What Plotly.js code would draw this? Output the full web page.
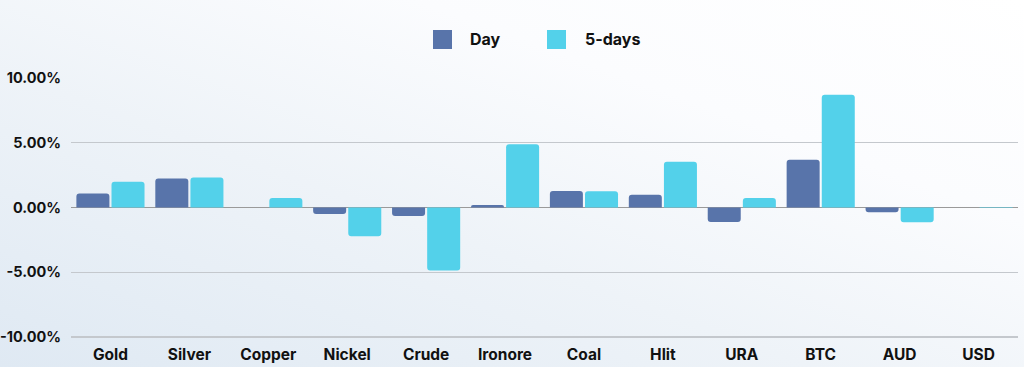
<!DOCTYPE html>
<html>
<head>
<meta charset="utf-8">
<script src="https://cdn.plot.ly/plotly-3.0.1.min.js"></script>
<style>
html,body{margin:0;padding:0;width:1024px;height:367px;overflow:hidden;}
body{background:linear-gradient(20deg,#dfe9f3 0%,#eef3f8 40%,#fbfcfe 70%,#ffffff 100%);}
#chart{width:1024px;height:367px;}
</style>
</head>
<body>
<div id="chart"></div>
<script>
const categories = ["Gold","Silver","Copper","Nickel","Crude","Ironore","Coal","Hlit","URA","BTC","AUD","USD"];
const dayValues = [1.08, 2.23, 0.0, -0.51, -0.66, 0.18, 1.26, 0.98, -1.13, 3.67, -0.38, 0.0];
const fiveDayValues = [1.98, 2.31, 0.72, -2.23, -4.87, 4.87, 1.25, 3.52, 0.72, 8.70, -1.15, -0.04];
const yTickValues = [-10, -5, 0, 5, 10];
const yTickLabels = ["-10.00%", "-5.00%", "0.00%", "5.00%", "10.00%"];
const seriesNames = ["Day", "5-days"];

const dayColor = "#5874AA";
const fiveColor = "#53D1EA";
const fontFamily = "Inter, 'Open Sans', sans-serif";

const W = 1024, H = 367;
const M = {l:71, r:6, t:77, b:26};
const pw = W - M.l - M.r, ph = H - M.t - M.b;
// convert pixel positions to paper coords for the custom legend
const px = x => (x - M.l) / pw;
const py = y => (H - M.b - y) / ph;

const traces = [
  {type:"bar", name:seriesNames[0], x:categories, y:dayValues,
   marker:{color:dayColor, cornerradius:3}, showlegend:false},
  {type:"bar", name:seriesNames[1], x:categories, y:fiveDayValues,
   marker:{color:fiveColor, cornerradius:3}, showlegend:false}
];

const legendItems = [
  {name:seriesNames[0], color:dayColor, sx:433, tx:468},
  {name:seriesNames[1], color:fiveColor, sx:547, tx:583}
];
const shapes = legendItems.map(it => ({
  type:"rect", xref:"paper", yref:"paper",
  x0:px(it.sx), x1:px(it.sx+19), y0:py(49), y1:py(30),
  fillcolor:it.color, line:{width:0}
}));
const annotations = legendItems.map(it => ({
  xref:"paper", yref:"paper", x:px(it.tx), y:py(39.5),
  xanchor:"left", yanchor:"middle", showarrow:false, text:it.name,
  font:{family:fontFamily, size:16, color:"#111111", weight:700}
}));

const layout = {
  width:W, height:H,
  paper_bgcolor:"rgba(0,0,0,0)",
  plot_bgcolor:"rgba(0,0,0,0)",
  margin:{l:M.l, r:M.r, t:M.t, b:M.b, autoexpand:false},
  barmode:"group",
  bargap:0.11,
  bargroupgap:0.06,
  font:{family:fontFamily, size:14, color:"#111111", weight:700},
  showlegend:false,
  shapes:shapes,
  annotations:annotations,
  xaxis:{type:"category", showgrid:false, zeroline:false, showline:false,
         ticks:"", ticklabelstandoff:2,
         tickfont:{family:fontFamily, size:15.5, color:"#111111", weight:700}},
  yaxis:{range:[-10.3,10.06], tickvals:yTickValues, ticktext:yTickLabels,
         showgrid:true, gridcolor:"#c4c8cd", gridwidth:1.5,
         zeroline:true, zerolinecolor:"#9a9a9a", zerolinewidth:1.5,
         showline:false, ticks:"", ticklabelstandoff:9,
         tickfont:{family:fontFamily, size:14.5, color:"#111111", weight:700}}
};

Plotly.newPlot("chart", traces, layout, {displayModeBar:false, staticPlot:true});
</script>
</body>
</html>
